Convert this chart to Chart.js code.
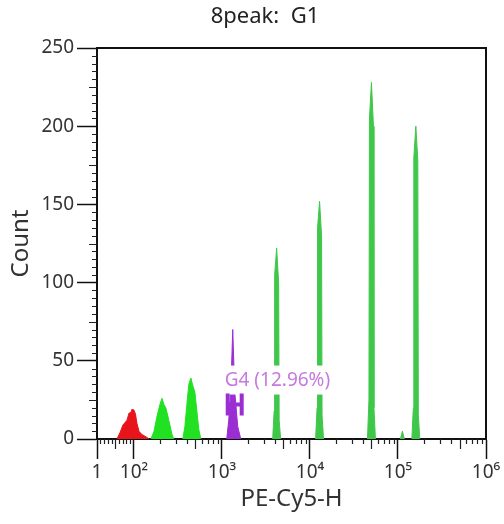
<!DOCTYPE html>
<html><head><meta charset="utf-8">
<script src="https://cdn.jsdelivr.net/npm/chart.js@4/dist/chart.umd.min.js"></script>
<style>html,body{margin:0;padding:0;background:#fff;overflow:hidden}#wrap{width:504px;height:524px;position:relative}</style>
</head><body><div id="wrap"><canvas id="c"></canvas></div>
<script>
// ---------- data ----------
const TITLE = '8peak:  G1';
const X_TITLE = 'PE-Cy5-H';
const Y_TITLE = 'Count';
const X_TICK_VALUES = [1, 100, 1000, 10000, 100000, 1000000];
const X_TICK_LABELS = ['1', '10²', '10³', '10⁴', '10⁵', '10⁶'];
const Y_MIN = 0, Y_MAX = 250, Y_STEP = 50;

// red population (below 10^2)
const RED_X = [54.5, 62.5, 70.6, 81.3, 86.6, 92, 94.7, 100, 104, 108.1, 113.9, 122.2, 140.4, 148];
const RED_Y = [0, 4, 9, 12, 16.5, 17, 19, 18.5, 16, 10, 5, 3, 1, 0];
// two low green peaks
const GREEN_LOW_X = [156, 169, 182, 197, 208, 219, 230, 249, 270, 284,
                     359, 379, 399, 420, 443, 467, 492, 518, 546, 575];
const GREEN_LOW_Y = [0, 5, 14, 22, 26, 22, 20, 12, 3, 0,
                     0, 8, 22, 35, 39, 34, 30, 18, 6, 0];
// gated purple peak (G4)
const PURPLE_X = [1133, 1194, 1258, 1326, 1397, 1511, 1634];
const PURPLE_Y = [0, 12, 30, 70, 30, 8, 0];
// bright high peaks
const GREEN_HIGH_X = [3767, 3917, 3968, 4181, 4405, 4463, 4641,
                      11577, 12039, 12196, 12850, 13539, 13716, 14264,
                      44982, 46777, 47390, 49930, 52606, 53295, 55422,
                      106500, 112200, 118200,
                      143700, 149400, 151400, 159500, 168000, 170200, 177000];
const GREEN_HIGH_Y = [0, 18, 105, 122, 100, 12, 0,
                      0, 20, 135, 152, 130, 15, 0,
                      0, 25, 205, 228, 200, 20, 0,
                      0, 5, 0,
                      0, 20, 180, 200, 178, 15, 0];
// gate G4
const GATE_LABEL = 'G4 (12.96%)';
const GATE_MIN = 1103, GATE_MAX = 1765, GATE_LEVEL = 22, GATE_LABEL_LEVEL = 38;

// ---------- biexponential-like x scale ----------
const LIN_SPAN = 0.42; // display width of the 1..100 linear segment (in decades)
function biexPos(v) { return v <= 100 ? LIN_SPAN * (v - 1) / 99 : LIN_SPAN + Math.log10(v / 100); }
function biexInv(p) { return p <= LIN_SPAN ? 1 + p / LIN_SPAN * 99 : 100 * Math.pow(10, p - LIN_SPAN); }

class BiexScale extends Chart.Scale {
  determineDataLimits() { this.min = this.options.min; this.max = this.options.max; }
  buildTicks() { return X_TICK_VALUES.map(v => ({ value: v })); }
  configure() { super.configure(); this._p0 = biexPos(this.min); this._p1 = biexPos(this.max); }
  getLabelForValue(v) { return String(v); }
  getPixelForValue(v) { return this.getPixelForDecimal((biexPos(v) - this._p0) / (this._p1 - this._p0)); }
  getValueForPixel(px) { return biexInv(this._p0 + this.getDecimalForPixel(px) * (this._p1 - this._p0)); }
}
BiexScale.id = 'biex';
BiexScale.defaults = {};
Chart.register(BiexScale);

const FONT = "'Noto Sans', 'Open Sans', sans-serif";
Chart.defaults.font.family = FONT;

function pts(xs, ys) { return xs.map((x, i) => ({ x: x, y: ys[i] })); }
function ds(xs, ys, color) {
  return {
    data: pts(xs, ys), borderColor: color, backgroundColor: color, borderWidth: 1,
    fill: 'origin', pointRadius: 0, tension: 0,
    segment: { borderColor: c => (c.p0.parsed.y === 0 && c.p1.parsed.y === 0) ? 'rgba(0,0,0,0)' : color }
  };
}

const decorPlugin = {
  id: 'decor',
  afterDatasetsDraw(chart) {
    const ctx = chart.ctx, xs = chart.scales.x, ys = chart.scales.y;
    const purple = '#9a2ed2';
    // label with white background
    ctx.save();
    ctx.font = "19px " + FONT;
    const lx = xs.getPixelForValue(GATE_MIN) - 1;
    const ly = ys.getPixelForValue(GATE_LABEL_LEVEL);
    const w = ctx.measureText(GATE_LABEL).width;
    ctx.fillStyle = '#fff';
    ctx.fillRect(lx - 1, ly - 14, w + 3, 29);
    ctx.fillStyle = '#c47ade';
    ctx.textBaseline = 'middle';
    ctx.textAlign = 'left';
    ctx.fillText(GATE_LABEL, lx, ly + 1);
    // gate marker
    const g0 = xs.getPixelForValue(GATE_MIN), g1 = xs.getPixelForValue(GATE_MAX);
    const gy = ys.getPixelForValue(GATE_LEVEL);
    ctx.strokeStyle = purple;
    ctx.lineWidth = 4;
    ctx.beginPath();
    ctx.moveTo(g0 + 2, gy); ctx.lineTo(g1 - 2, gy);
    ctx.moveTo(g0 + 2, gy - 11); ctx.lineTo(g0 + 2, gy + 11);
    ctx.moveTo(g1 - 2, gy - 11); ctx.lineTo(g1 - 2, gy + 11);
    ctx.stroke();
    ctx.restore();
  },
  afterDraw(chart) {
    const ctx = chart.ctx, xs = chart.scales.x, ys = chart.scales.y, a = chart.chartArea;
    ctx.save();
    ctx.strokeStyle = '#111';
    ctx.lineWidth = 2;
    ctx.beginPath();
    ctx.moveTo(a.left, a.top); ctx.lineTo(a.right, a.top); ctx.lineTo(a.right, a.bottom);
    ctx.stroke();
    ctx.lineWidth = 1.2;
    ctx.strokeStyle = '#222';
    ctx.beginPath();
    // y minor ticks every 5, medium every 25
    for (let v = Y_MIN + 5; v < Y_MAX; v += 5) {
      if (v % Y_STEP === 0) continue;
      const py = Math.round(ys.getPixelForValue(v)) + 0.5;
      const len = v % 25 === 0 ? 8 : 5;
      ctx.moveTo(a.left - len, py); ctx.lineTo(a.left, py);
    }
    // x minor ticks
    const minor = [];
    for (let k = 10; k < 100; k += 10) minor.push([k, k === 50]);
    for (let e = 2; e < 6; e++) for (let m = 2; m < 10; m++) minor.push([m * Math.pow(10, e), m === 5]);
    for (const [v, mid] of minor) {
      const px = Math.round(xs.getPixelForValue(v)) + 0.5;
      ctx.moveTo(px, a.bottom); ctx.lineTo(px, a.bottom + (mid ? 10 : 5));
    }
    ctx.stroke();
    // title
    ctx.fillStyle = '#222';
    ctx.font = "22px " + FONT;
    ctx.textAlign = 'center';
    ctx.textBaseline = 'middle';
    ctx.fillText(TITLE, 265, 17);
    ctx.restore();
  }
};

new Chart(document.getElementById('c'), {
  type: 'line',
  data: {
    datasets: [
      ds(RED_X, RED_Y, '#e8141c'),
      ds(GREEN_LOW_X, GREEN_LOW_Y, '#22e022'),
      ds(PURPLE_X, PURPLE_Y, '#9a2ed2'),
      ds(GREEN_HIGH_X, GREEN_HIGH_Y, '#3fc74a')
    ]
  },
  options: {
    responsive: true, maintainAspectRatio: false, animation: false,
    layout: { padding: { left: 0, right: 18, top: 48, bottom: 0 } },
    plugins: { legend: { display: false }, tooltip: { enabled: false }, title: { display: false } },
    scales: {
      x: {
        type: 'biex', min: 1, max: 1000000,
        ticks: { autoSkip: false, maxRotation: 0, color: '#333', font: { size: 19 }, padding: 2,
                 callback: (v, i) => X_TICK_LABELS[i] },
        grid: { display: true, drawOnChartArea: false, drawTicks: true, tickLength: 20, tickColor: '#111', tickWidth: 1.5 },
        border: { display: true, color: '#111', width: 2 },
        title: { display: true, text: X_TITLE, color: '#333', font: { size: 24 }, padding: { top: 0, bottom: 10 } },
        afterFit: s => { s.height = 85; }
      },
      y: {
        type: 'linear', min: Y_MIN, max: Y_MAX,
        ticks: { stepSize: Y_STEP, color: '#333', font: { size: 19 }, padding: 3 },
        grid: { display: true, drawOnChartArea: false, drawTicks: true, tickLength: 20, tickColor: '#111', tickWidth: 1.5 },
        border: { display: true, color: '#111', width: 2 },
        title: { display: true, text: Y_TITLE, color: '#333', font: { size: 24 }, padding: { top: 7, bottom: 0 } },
        afterFit: s => { s.width = 97; }
      }
    }
  },
  plugins: [decorPlugin]
});
</script>
</body></html>
